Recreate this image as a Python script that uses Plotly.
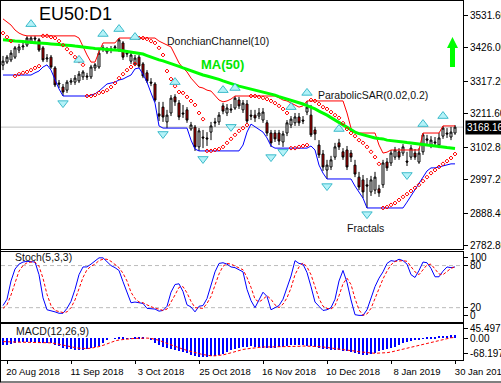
import plotly.graph_objects as go

# ---------------- data ----------------
open_ = [3369,3379,3386,3395,3418,3428,3434,3444,3457,3451,
         3425,3389,3395,3360,3311,3298,3288,3314,3314,3318,
         3331,3334,3331,3360,3363,3421,3412,3421,3425,3418,
         3441,3405,3382,3373,3395,3373,3344,3314,3308,3211,
         3233,3185,3214,3266,3246,3214,3224,3162,3168,3104,
         3136,3133,3152,3185,3185,3237,3214,3227,3230,3256,
         3224,3243,3207,3207,3204,3191,3182,3149,3149,3149,
         3120,3149,3175,3182,3201,3191,3217,3207,3159,3110,
         3081,3029,3039,3071,3117,3088,3094,3084,3045,3006,
         2997,2981,2958,2964,2968,2981,3055,3052,3071,3088,
         3084,3058,3071,3084,3055,3088,3130,3110,3120,3110,
         3139,3149,3136,3149]
high = [3399,3402,3418,3431,3438,3441,3463,3463,3464,3457,
        3431,3405,3402,3366,3321,3308,3321,3327,3337,3350,
        3353,3344,3370,3376,3418,3434,3428,3431,3434,3457,
        3447,3418,3412,3402,3402,3379,3353,3327,3314,3250,
        3250,3224,3272,3275,3256,3240,3233,3185,3175,3165,
        3159,3152,3185,3198,3217,3246,3243,3243,3269,3266,
        3256,3256,3224,3224,3230,3230,3191,3159,3159,3159,
        3156,3191,3204,3214,3214,3204,3253,3240,3169,3126,
        3094,3062,3075,3117,3130,3100,3107,3094,3062,3023,
        3013,3003,3010,3023,2981,3062,3068,3094,3104,3100,
        3113,3088,3110,3097,3100,3149,3143,3139,3136,3149,
        3172,3165,3169,3175]
low = [3353,3373,3379,3389,3408,3418,3428,3438,3444,3412,
       3379,3379,3357,3298,3295,3269,3279,3305,3305,3311,
       3321,3321,3324,3350,3357,3412,3405,3408,3415,3412,
       3386,3395,3373,3366,3360,3327,3311,3301,3250,3188,
       3185,3165,3204,3237,3191,3198,3182,3156,3091,3091,
       3100,3107,3126,3169,3175,3210,3204,3214,3224,3227,
       3214,3178,3191,3185,3194,3182,3139,3104,3120,3110,
       3104,3139,3165,3172,3172,3178,3207,3136,3126,3068,
       3026,3000,3029,3062,3094,3062,3029,3055,3006,2964,
       2938,2906,2945,2951,2942,2971,3026,3042,3062,3062,
       3075,3042,3062,3062,3049,3078,3113,3100,3104,3100,
       3130,3133,3126,3143]
close = [3382,3395,3408,3425,3428,3431,3457,3457,3454,3418,
         3386,3392,3363,3305,3308,3282,3314,3318,3327,3340,
         3347,3331,3363,3370,3408,3425,3421,3418,3428,3451,
         3395,3408,3402,3392,3366,3334,3318,3311,3256,3204,
         3201,3207,3262,3250,3201,3211,3191,3175,3104,3156,
         3133,3130,3172,3182,3207,3220,3230,3224,3262,3237,
         3246,3188,3204,3198,3214,3217,3149,3117,3130,3123,
         3146,3182,3194,3201,3182,3188,3233,3143,3146,3078,
         3039,3045,3062,3104,3104,3071,3039,3071,3016,2974,
         2958,2977,2997,3006,2955,3052,3036,3084,3094,3071,
         3104,3055,3100,3071,3084,3143,3126,3126,3117,3133,
         3165,3146,3152,3168.16]

ma50 = [3451,3451,3449,3447,3447,3446,3444,3444,3442,3441,
        3441,3439,3438,3438,3436,3434,3434,3433,3431,3430,
        3428,3426,3425,3423,3421,3421,3420,3418,3418,3417,
        3415,3413,3412,3410,3408,3405,3400,3395,3391,3386,
        3383,3379,3374,3370,3365,3360,3355,3350,3345,3342,
        3337,3334,3331,3327,3323,3318,3313,3308,3305,3301,
        3298,3295,3292,3288,3285,3282,3279,3276,3272,3267,
        3263,3259,3256,3253,3248,3243,3238,3233,3227,3220,
        3214,3207,3199,3191,3183,3175,3167,3159,3152,3147,
        3143,3139,3136,3133,3131,3130,3126,3125,3123,3122,
        3120,3118,3117,3115,3113,3112,3110,3109,3107,3105,
        3104,3102,3100,3099]

donchian_up = [3519,3509,3499,3483,3473,3467,3464,3464,3464,3464,
               3464,3464,3464,3464,3464,3464,3464,3464,3464,3457,
               3428,3402,3379,3379,3412,3441,3441,3441,3441,3457,
               3457,3457,3457,3457,3457,3457,3457,3457,3457,3447,
               3441,3434,3428,3402,3376,3360,3347,3327,3311,3298,
               3295,3288,3285,3269,3256,3250,3253,3259,3269,3269,
               3269,3269,3269,3269,3269,3269,3269,3269,3269,3263,
               3256,3253,3246,3240,3233,3237,3253,3253,3253,3253,
               3253,3253,3253,3253,3253,3253,3214,3165,3149,3149,
               3149,3149,3149,3149,3110,3084,3087,3094,3094,3094,
               3094,3094,3094,3094,3094,3149,3149,3149,3149,3149,
               3172,3172,3172,3172]
donchian_lo = [3337,3337,3337,3337,3337,3337,3337,3337,3344,3350,
               3363,3370,3353,3321,3292,3269,3269,3269,3269,3269,
               3269,3269,3272,3276,3285,3298,3308,3311,3314,3321,
               3324,3331,3337,3357,3360,3340,3314,3279,3246,3172,
               3165,3165,3165,3165,3165,3165,3165,3126,3097,3091,
               3091,3091,3091,3091,3091,3091,3091,3091,3091,3091,
               3110,3152,3178,3169,3162,3152,3133,3107,3100,3100,
               3100,3100,3100,3100,3100,3100,3100,3107,3094,3045,
               3019,3000,3000,3000,3000,3000,3000,3000,2977,2958,
               2938,2906,2906,2906,2906,2906,2906,2906,2906,2906,
               2906,2925,2945,2964,2984,3006,3026,3036,3036,3039,
               3042,3045,3049,3049]

sar = [3473,3460,3447,3334,3340,3344,3347,3353,3360,3366,
       3464,3464,3460,3457,3447,3434,3421,3408,3395,3382,
       3370,3269,3269,3272,3279,3282,3288,3298,3311,3327,
       3340,3353,3363,3373,3457,3457,3454,3447,3441,3425,
       3402,3350,3324,3301,3282,3279,3266,3253,3240,3214,
       3194,3091,3091,3094,3097,3104,3117,3130,3143,3156,
       3165,3175,3269,3269,3266,3263,3259,3253,3246,3237,
       3227,3214,3100,3100,3104,3107,3110,3256,3253,3243,
       3233,3227,3217,3207,3198,3181,3162,3149,3139,3126,
       3117,3104,3088,3071,3049,2906,2909,2916,2922,2932,
       2942,2951,2961,2971,2981,2993,3006,3019,3029,3039,
       3049,3058,3068,3081]

fractal_up_bar = [7, 19, 25, 29, 33, 43, 55, 58, 72, 76, 84, 105, 110]
fractal_up_val = [3502, 3386, 3470, 3486, 3460, 3314, 3288, 3295, 3233, 3279, 3162, 3178, 3204]
fractal_dn_bar = [15, 40, 50, 57, 67, 70, 81, 91, 101]
fractal_dn_val = [3246, 3146, 3065, 3169, 3071, 3088, 2977, 2886, 3013]

stoch_k = [23,32,58,75,82,85,86,86,85,67,
           34,17,16,14,12,12,19,29,46,67,
           78,78,82,87,91,91,86,80,77,73,
           57,42,27,28,27,26,19,19,18,15,
           16,22,42,53,54,43,24,21,14,22,
           23,33,52,71,83,84,82,78,77,74,
           71,46,30,20,32,42,36,17,20,23,
           32,48,65,87,83,82,70,50,28,22,
           16,17,20,32,58,73,56,31,10,9,
           9,17,33,50,62,71,83,87,86,89,
           87,82,67,63,73,85,84,76,64,64,
           72,78,77,78]
stoch_d = [19,24,38,55,72,80,84,85,85,79,
           62,39,23,16,14,13,14,20,31,48,
           63,74,79,82,87,89,89,86,81,77,
           69,58,42,33,28,27,24,21,19,18,
           16,18,27,38,49,50,41,29,20,19,
           19,26,36,52,68,79,83,82,79,77,
           74,63,49,32,28,32,37,32,24,20,
           25,34,48,67,78,84,78,67,49,33,
           22,19,18,23,37,54,62,53,33,17,
           9,11,19,33,48,61,72,81,86,87,
           87,86,78,71,67,74,81,82,75,68,
           67,72,76,78]

macd_hist = [-21,-20,-17,-14,-12,-11,-10,-11,-12,-13,
             -14,-15,-16,-20,-25,-29,-32,-34,-36,-37,
             -36,-34,-31,-28,-24,-14,-4,0,1,2,
             2,1,1,2,3,2,0,-5,-15,-22,
             -27,-30,-33,-37,-41,-44,-47,-51,-55,-58,
             -59,-58,-57,-55,-52,-48,-43,-37,-33,-30,
             -28,-26,-24,-26,-28,-29,-29,-30,-30,-28,
             -26,-24,-22,-21,-21,-22,-23,-25,-27,-30,
             -33,-35,-36,-37,-38,-39,-41,-43,-46,-49,
             -51,-52,-50,-46,-41,-37,-33,-30,-26,-20,
             -15,-11,-8,-5,-2,1,3,5,6,7,
             8,9,10,12]
macd_signal = [-10,-11,-11,-12,-12,-12,-12,-12,-12,-12,
               -13,-13,-14,-16,-19,-22,-25,-27,-29,-31,
               -32,-32,-31,-29,-26,-22,-17,-12,-8,-5,
               -3,-2,-1,0,1,1,1,0,-2,-6,
               -11,-16,-21,-26,-30,-34,-38,-42,-45,-48,
               -51,-54,-55,-55,-54,-52,-49,-45,-41,-38,
               -35,-33,-31,-29,-28,-27,-27,-27,-27,-27,
               -27,-27,-26,-26,-25,-24,-24,-24,-25,-26,
               -27,-28,-30,-32,-34,-35,-37,-38,-40,-42,
               -44,-45,-46,-47,-47,-47,-45,-43,-40,-37,
               -34,-31,-28,-24,-21,-18,-14,-11,-8,-5,
               -2,0,2,3]

date_tick_bar = [1, 17, 33, 49, 65, 81, 97, 113]
date_tick_text = ['20 Aug 2018', '11 Sep 2018', '3 Oct 2018', '25 Oct 2018',
                  '16 Nov 2018', '10 Dec 2018', '8 Jan 2019', '30 Jan 2019']
price_ticks = [3531.60, 3426.00, 3317.20, 3211.60, 3102.80, 2997.20, 2888.40, 2782.80]
stoch_tick_vals = [91.4, 80, 20, 8.6]
stoch_tick_text = ['100', '80', '20', '0']
macd_tick_vals = [29.7, 0, -47.0]
macd_tick_text = ['45.497', '0.00', '-68.197']

for arr in (open_, high, low, close, ma50, donchian_up, donchian_lo, sar,
            stoch_k, stoch_d, macd_hist, macd_signal):
    assert len(arr) == len(close), len(arr)

idx = list(range(len(close)))
last_price = close[-1]

FONT = 'Liberation Sans, Arial, sans-serif'
RED = '#FF0000'
BLUE = '#0000FF'
GREEN = '#00FF00'

fig = go.Figure()

# ---------------- main panel ----------------
fig.add_trace(go.Scatter(x=idx, y=donchian_up, mode='lines',
                         line=dict(color=RED, width=1), xaxis='x', yaxis='y'))
fig.add_trace(go.Scatter(x=idx, y=donchian_lo, mode='lines',
                         line=dict(color=BLUE, width=1), xaxis='x', yaxis='y'))
fig.add_trace(go.Candlestick(
    x=idx, open=open_, high=high, low=low, close=close,
    increasing=dict(fillcolor='white', line=dict(color='black', width=1)),
    decreasing=dict(fillcolor='#D80000', line=dict(color='black', width=1)),
    whiskerwidth=0, xaxis='x', yaxis='y'))
fig.add_trace(go.Scatter(x=idx, y=ma50, mode='lines',
                         line=dict(color=GREEN, width=3), xaxis='x', yaxis='y'))
fig.add_trace(go.Scatter(x=idx, y=sar, mode='markers',
                         marker=dict(symbol='diamond-open', size=3, color=RED,
                                     line=dict(width=1, color=RED)),
                         xaxis='x', yaxis='y'))
fig.add_trace(go.Scatter(x=fractal_up_bar, y=fractal_up_val, mode='markers',
                         marker=dict(symbol='triangle-up', size=9, color='#B4F2F8',
                                     line=dict(width=1, color='#3DBBCB')),
                         xaxis='x', yaxis='y'))
fig.add_trace(go.Scatter(x=fractal_dn_bar, y=fractal_dn_val, mode='markers',
                         marker=dict(symbol='triangle-down', size=9, color='#B4F2F8',
                                     line=dict(width=1, color='#3DBBCB')),
                         xaxis='x', yaxis='y'))

# ---------------- stochastic ----------------
fig.add_trace(go.Scatter(x=idx, y=stoch_k, mode='lines',
                         line=dict(color=BLUE, width=1), xaxis='x2', yaxis='y2'))
fig.add_trace(go.Scatter(x=idx, y=stoch_d, mode='lines',
                         line=dict(color=RED, width=1, dash='3px,2px'), xaxis='x2', yaxis='y2'))

# ---------------- MACD ----------------
fig.add_trace(go.Bar(x=idx, y=macd_hist, width=0.3,
                     marker=dict(color=BLUE, line=dict(width=0)),
                     xaxis='x3', yaxis='y3'))
fig.add_trace(go.Scatter(x=idx, y=macd_signal, mode='lines',
                         line=dict(color=RED, width=1, dash='3px,2px'), xaxis='x3', yaxis='y3'))

xcommon = dict(range=[-0.5, 115], showgrid=False, zeroline=False, showline=True,
               mirror=True, linecolor='black', linewidth=1, fixedrange=True,
               automargin=False)
ycommon = dict(showgrid=False, zeroline=False, showline=True, mirror=True,
               linecolor='black', linewidth=1, side='right', ticks='outside',
               ticklen=4, tickcolor='black', fixedrange=True, automargin=False,
               tickfont=dict(family=FONT, size=10, color='black'))

ann_font = dict(family=FONT, size=10.5, color='#111111')
annotations = [
    dict(text='EU50:D1', x=0.0779, y=0.9638, xref='paper', yref='paper', xanchor='left',
         yanchor='middle', showarrow=False, font=dict(family=FONT, size=18, color='black')),
    dict(text='DonchianChannel(10)', x=0.355, y=0.8886, xref='paper', yref='paper',
         xanchor='left', yanchor='middle', showarrow=False, font=ann_font),
    dict(text='<b>MA(50)</b>', x=0.4286, y=0.8245, xref='paper', yref='paper',
         xanchor='left', yanchor='middle', showarrow=False,
         font=dict(family=FONT, size=13, color='#00E600')),
    dict(text='ParabolicSAR(0.02,0.2)', x=0.6818, y=0.7382, xref='paper', yref='paper',
         xanchor='left', yanchor='middle', showarrow=False, font=ann_font),
    dict(text='Fractals', x=0.7446, y=0.3677, xref='paper', yref='paper',
         xanchor='left', yanchor='middle', showarrow=False, font=ann_font),
    dict(text='Stoch(5,3,3)', x=0.026, y=0.2869, xref='paper', yref='paper',
         xanchor='left', yanchor='middle', showarrow=False, font=ann_font),
    dict(text='MACD(12,26,9)', x=0.0281, y=0.0808, xref='paper', yref='paper',
         xanchor='left', yanchor='middle', showarrow=False, font=ann_font),
    dict(text='%.2f' % last_price, x=1, y=last_price, xref='paper', yref='y',
         xanchor='left', yanchor='middle', xshift=2, showarrow=False,
         bgcolor='black', borderpad=1, font=dict(family=FONT, size=10, color='white')),
]

shapes = [
    dict(type='line', xref='paper', yref='y', x0=0, x1=1, y0=last_price, y1=last_price,
         line=dict(color='#C0C0C0', width=1), layer='below'),
    dict(type='line', xref='paper', yref='y2', x0=0, x1=1, y0=80, y1=80,
         line=dict(color='#BBBBBB', width=1, dash='4px,3px'), layer='below'),
    dict(type='line', xref='paper', yref='y2', x0=0, x1=1, y0=20, y1=20,
         line=dict(color='#BBBBBB', width=1, dash='4px,3px'), layer='below'),
    # green "up" signal arrow
    dict(type='path', xref='paper', yref='paper',
         path='M 0.97727,0.89972 L 0.96537,0.86908 L 0.97186,0.86908 L 0.97186,0.81616 '
              'L 0.98268,0.81616 L 0.98268,0.86908 L 0.98918,0.86908 Z',
         fillcolor='#00FF00', line=dict(width=0)),
    # outer frame (left + bottom)
    dict(type='line', xref='paper', yref='paper', x0=-0.0011, x1=-0.0011, y0=-0.0627, y1=1.0014,
         line=dict(color='black', width=1)),
    dict(type='line', xref='paper', yref='paper', x0=-0.0011, x1=1.09, y0=-0.0613, y1=-0.0613,
         line=dict(color='black', width=1)),
]

fig.update_layout(
    width=501, height=383,
    margin=dict(l=1, r=38, t=1, b=23, autoexpand=False),
    paper_bgcolor='white', plot_bgcolor='white',
    showlegend=False, hovermode=False, bargap=0,
    font=dict(family=FONT, size=10, color='black'),
    xaxis=dict(**xcommon, anchor='y', showticklabels=False, ticks='',
               rangeslider=dict(visible=False)),
    xaxis2=dict(**xcommon, anchor='y2', showticklabels=False, ticks=''),
    xaxis3=dict(**xcommon, anchor='y3', tickmode='array', tickvals=date_tick_bar,
                ticktext=date_tick_text, ticks='outside', ticklen=3, tickcolor='black',
                tickfont=dict(family=FONT, size=9.5, color='black'),
                ticklabelshift=26, ticklabeloverflow='allow'),
    yaxis=dict(**ycommon, domain=[0.3078, 1.0], range=[2771.4, 3577.0],
               tickmode='array', tickvals=price_ticks,
               ticktext=['%.2f' % v for v in price_ticks]),
    yaxis2=dict(**ycommon, domain=[0.1067, 0.3022], range=[0, 100],
                tickmode='array', tickvals=stoch_tick_vals, ticktext=stoch_tick_text),
    yaxis3=dict(**ycommon, domain=[0.0, 0.1003], range=[-68.197, 45.497],
                tickmode='array', tickvals=macd_tick_vals, ticktext=macd_tick_text),
    annotations=annotations,
    shapes=shapes,
)

fig.write_html('out.html', config={'displayModeBar': False},
               post_script="document.body.style.margin='0';document.body.style.padding='0';"
                           "document.body.style.overflow='hidden';")
